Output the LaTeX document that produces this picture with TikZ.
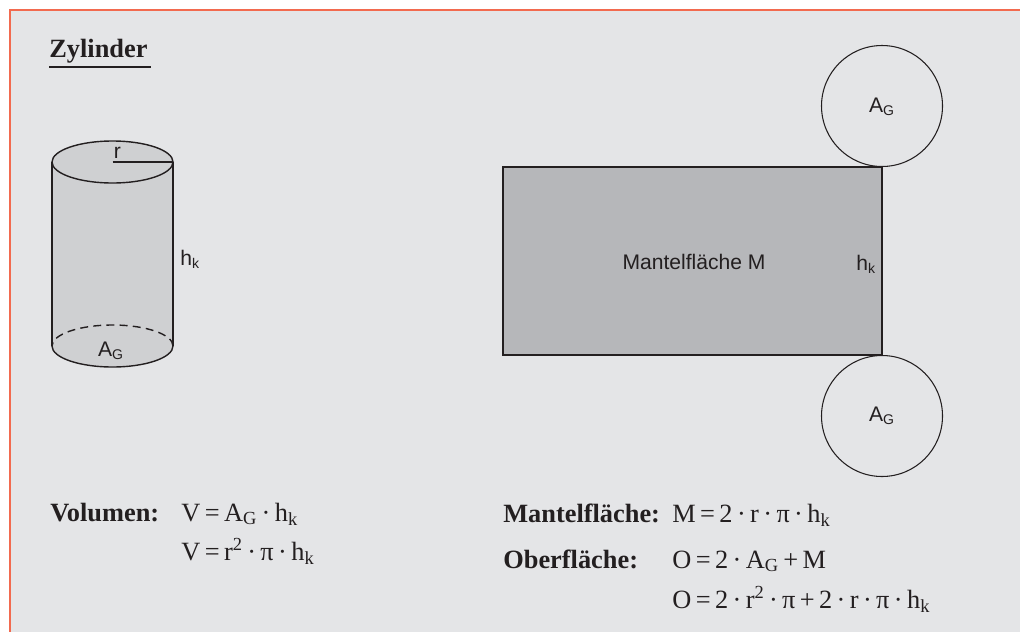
\documentclass[tikz,border=0pt]{standalone}
\usepackage{fontspec}
\setmainfont{Liberation Serif}
\newfontfamily\helv{Liberation Sans}
\definecolor{hintergrund}{HTML}{E4E5E7}
\definecolor{rahmen}{HTML}{F26A4F}
\definecolor{zylgrau}{HTML}{CFD0D2}
\definecolor{mantelgrau}{HTML}{B6B7BA}
\definecolor{schrift}{HTML}{231F20}
\begin{document}
\begin{tikzpicture}[>=latex,
  lbl/.style={font=\helv\fontsize{12}{14}\selectfont,inner sep=0pt,anchor=base,text=schrift},
  frml/.style={font=\fontsize{15}{18}\selectfont,inner sep=0pt,anchor=base west,text=schrift},
  fett/.style={frml,font=\fontsize{15}{18}\selectfont\bfseries}]
\def\ds{0.02}
\def\punkt#1#2{({(#1)*\ds},{-(#2)*\ds})}
\useasboundingbox \punkt{0}{0} rectangle \punkt{1020}{631};
\draw[rahmen,line width=1.13pt,fill=hintergrund] \punkt{10}{10} rectangle \punkt{1040}{650};
\node[fett] (titel) at \punkt{49}{57} {Zylinder};
\draw[schrift,line width=1.13pt] \punkt{49}{67} -- \punkt{151}{67};
\begin{scope}[schrift,line width=0.8pt]
\fill[zylgrau] \punkt{52}{162} arc[start angle=180,end angle=0,x radius={61*\ds},y radius={21*\ds}]
  -- \punkt{173}{346} arc[start angle=0,end angle=-180,x radius={61*\ds},y radius={21*\ds}] -- cycle;
\draw \punkt{112.5}{162} ellipse[x radius={60.5*\ds},y radius={21*\ds}];
\draw \punkt{52}{162} -- \punkt{52}{346};
\draw \punkt{173}{162} -- \punkt{173}{346};
\draw \punkt{52}{346} arc[start angle=180,end angle=360,x radius={60.5*\ds},y radius={21*\ds}];
\draw[dash pattern=on 4.5pt off 3pt] \punkt{173}{346} arc[start angle=0,end angle=180,x radius={60.5*\ds},y radius={21*\ds}];
\draw \punkt{112.5}{162} -- \punkt{173}{162};
\end{scope}
\node[lbl] (r) at \punkt{117.5}{158} {r};
\node[lbl,anchor=base west] (hzyl) at \punkt{180}{265} {h\textsubscript{k}};
\node[lbl] (agzyl) at \punkt{111}{356} {A\textsubscript{G}};
\draw[schrift,line width=0.85pt,fill=mantelgrau] \punkt{503}{167} rectangle \punkt{882}{355};
\draw[schrift,line width=0.6pt] \punkt{882}{106} circle[radius={60.5*\ds}];
\draw[schrift,line width=0.6pt] \punkt{882}{416} circle[radius={60.5*\ds}];
\node[lbl] (mantel) at \punkt{694}{269} {Mantelfläche M};
\node[lbl,anchor=base west] (hmantel) at \punkt{856}{270} {h\textsubscript{k}};
\node[lbl] (agoben) at \punkt{882}{112} {A\textsubscript{G}};
\node[lbl] (agunten) at \punkt{882}{421} {A\textsubscript{G}};
\node[fett] (volumen) at \punkt{50}{521} {Volumen:};
\node[frml] (v1) at \punkt{181}{521} {V\,=\,A\textsubscript{G}\,·\,h\textsubscript{k}};
\node[frml] (v2) at \punkt{181}{560} {V\,=\,r\textsuperscript{2}\,·\,π\,·\,h\textsubscript{k}};
\node[fett] (mantelf) at \punkt{503}{522} {Mantelfläche:};
\node[frml] (m1) at \punkt{672}{522} {M\,=\,2\,·\,r\,·\,π\,·\,h\textsubscript{k}};
\node[fett] (oberf) at \punkt{503}{568} {Oberfläche:};
\node[frml] (o1) at \punkt{672}{568} {O\,=\,2\,·\,A\textsubscript{G}\,+\,M};
\node[frml] (o2) at \punkt{672}{608} {O\,=\,2\,·\,r\textsuperscript{2}\,·\,π\,+\,2\,·\,r\,·\,π\,·\,h\textsubscript{k}};
\end{tikzpicture}
\end{document}
